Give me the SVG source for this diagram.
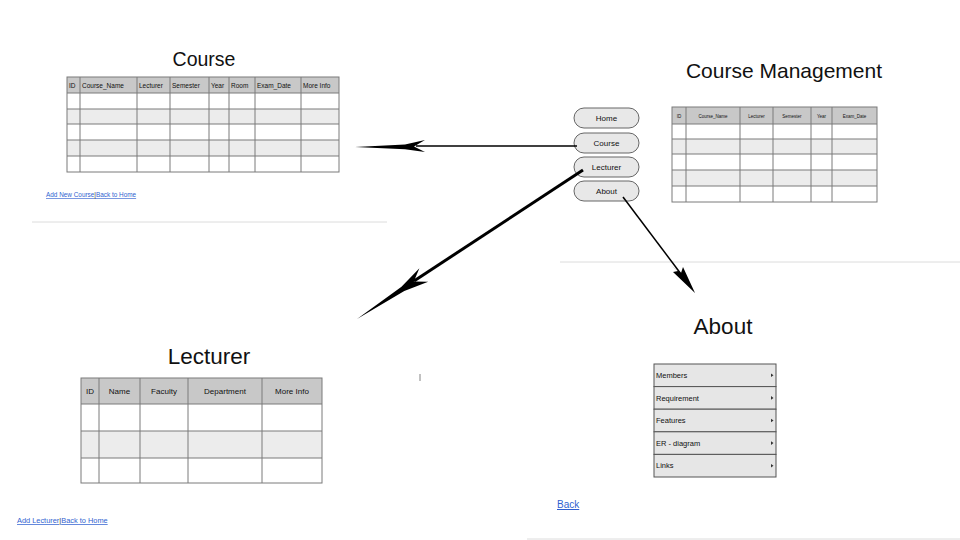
<svg xmlns="http://www.w3.org/2000/svg" width="960" height="540" viewBox="0 0 960 540">
<style>
text{font-family:"Liberation Sans",Arial,sans-serif;fill:#111}
.title{font-size:21px;text-anchor:middle}
.hd{fill:#c8c8c8}
.alt{fill:#ececec}
.wh{fill:#fff}
.grid{stroke:#7a7a7a;stroke-width:1;fill:none}
.link{font-size:7px;fill:#2f5fd0;text-decoration:underline}
.sep{stroke:#dcdcdc;stroke-width:1}
.btn{fill:#e8e8e8;stroke:#666;stroke-width:1}
.bt{font-size:8px;text-anchor:middle}
.mi{fill:#e6e6e6;stroke:#555;stroke-width:1}
.mt{font-size:7.5px}
.conn{stroke:#000;fill:none}
.head{fill:#000;stroke:none}
</style>
<rect width="960" height="540" fill="#fff"/>

<g id="course-page">
<text class="title" x="204" y="66" style="font-size:19.5px">Course</text>
<rect class="hd" x="67" y="77" width="272" height="16"/>
<rect class="wh" x="67" y="93" width="272" height="16"/>
<rect class="alt" x="67" y="109" width="272" height="15"/>
<rect class="wh" x="67" y="124" width="272" height="16"/>
<rect class="alt" x="67" y="140" width="272" height="16"/>
<rect class="wh" x="67" y="156" width="272" height="16"/>
<g class="grid">
<rect x="67" y="77" width="272" height="95"/>
<path d="M67 93H339M67 109H339M67 124H339M67 140H339M67 156H339M80 77V172M137 77V172M170 77V172M209 77V172M229 77V172M255 77V172M301 77V172"/>
</g>
<g>
<text x="69" y="88" font-size="6.5">ID</text>
<text x="82" y="88" font-size="6.5">Course_Name</text>
<text x="139" y="88" font-size="6.5">Lecturer</text>
<text x="172" y="88" font-size="6.5">Semester</text>
<text x="211" y="88" font-size="6.5">Year</text>
<text x="231" y="88" font-size="6.5">Room</text>
<text x="257" y="88" font-size="6.5">Exam_Date</text>
<text x="303" y="88" font-size="6.5">More Info</text>
</g>
<text class="link" x="46" y="197" style="font-size:6.4px">Add New Course<tspan fill="#333" text-decoration="none">|</tspan>Back to Home</text>
<line class="sep" x1="32" y1="222" x2="387" y2="222"/>
</g>

<g id="course-management">
<text class="title" x="784" y="78">Course Management</text>
<rect class="hd" x="672" y="107" width="205" height="17"/>
<rect class="wh" x="672" y="124" width="205" height="15"/>
<rect class="alt" x="672" y="139" width="205" height="15"/>
<rect class="wh" x="672" y="154" width="205" height="16"/>
<rect class="alt" x="672" y="170" width="205" height="16"/>
<rect class="wh" x="672" y="186" width="205" height="16"/>
<g class="grid">
<rect x="672" y="107" width="205" height="95"/>
<path d="M672 124H877M672 139H877M672 154H877M672 170H877M672 186H877M686 107V202M740 107V202M773 107V202M811 107V202M832 107V202"/>
</g>
<g text-anchor="middle">
<text x="679" y="117.5" font-size="4.5">ID</text>
<text x="713" y="117.5" font-size="4.5">Course_Name</text>
<text x="756.5" y="117.5" font-size="4.5">Lecturer</text>
<text x="792" y="117.5" font-size="4.5">Semester</text>
<text x="821.5" y="117.5" font-size="4.5">Year</text>
<text x="854.5" y="117.5" font-size="4.5">Exam_Date</text>
</g>
</g>

<g id="nav-home"><rect class="btn" x="574" y="108" width="65" height="20" rx="10"/><text class="bt" x="606.5" y="121">Home</text></g>
<g id="nav-course"><rect class="btn" x="574" y="133" width="65" height="20" rx="10"/><text class="bt" x="606.5" y="146">Course</text></g>
<g id="nav-lecturer"><rect class="btn" x="574" y="157" width="65" height="20" rx="10"/><text class="bt" x="606.5" y="170">Lecturer</text></g>
<g id="nav-about"><rect class="btn" x="574" y="181" width="65" height="20" rx="10"/><text class="bt" x="606.5" y="194">About</text></g>

<g id="lecturer-page">
<text class="title" x="209" y="364" style="font-size:22.5px">Lecturer</text>
<rect class="hd" x="81" y="378" width="241" height="26"/>
<rect class="wh" x="81" y="404" width="241" height="27"/>
<rect class="alt" x="81" y="431" width="241" height="27"/>
<rect class="wh" x="81" y="458" width="241" height="25"/>
<g class="grid">
<rect x="81" y="378" width="241" height="105"/>
<path d="M81 404H322M81 431H322M81 458H322M99 378V483M140 378V483M188 378V483M262 378V483"/>
</g>
<g text-anchor="middle">
<text x="90" y="394" font-size="8">ID</text>
<text x="119.5" y="394" font-size="8">Name</text>
<text x="164" y="394" font-size="8">Faculty</text>
<text x="225" y="394" font-size="8">Department</text>
<text x="292" y="394" font-size="8">More Info</text>
</g>
<text class="link" x="17" y="523" style="font-size:7.4px">Add Lecturer<tspan fill="#333" text-decoration="none">|</tspan>Back to Home</text>
<line x1="420" y1="374" x2="420" y2="381" stroke="#666" stroke-width="0.8"/>
</g>

<g id="about-page">
<text class="title" x="723" y="334" style="font-size:22.5px">About</text>
<rect class="mi" x="654" y="364" width="122" height="22.6"/>
<rect class="mi" x="654" y="386.6" width="122" height="22.6"/>
<rect class="mi" x="654" y="409.2" width="122" height="22.6"/>
<rect class="mi" x="654" y="431.8" width="122" height="22.6"/>
<rect class="mi" x="654" y="454.4" width="122" height="22.6"/>
<text class="mt" x="656" y="378">Members</text>
<text class="mt" x="656" y="400.6">Requirement</text>
<text class="mt" x="656" y="423.2">Features</text>
<text class="mt" x="656" y="445.8">ER - diagram</text>
<text class="mt" x="656" y="468.4">Links</text>
<g fill="#333">
<path d="M771 373.5l2.5 1.8-2.5 1.8z"/>
<path d="M771 396.1l2.5 1.8-2.5 1.8z"/>
<path d="M771 418.7l2.5 1.8-2.5 1.8z"/>
<path d="M771 441.3l2.5 1.8-2.5 1.8z"/>
<path d="M771 463.9l2.5 1.8-2.5 1.8z"/>
</g>
<text class="link" x="557" y="508" style="font-size:10px">Back</text>
<line class="sep" x1="560" y1="262" x2="960" y2="262"/>
<line class="sep" x1="527" y1="539" x2="960" y2="539"/>
</g>

<g id="connectors">
<path class="conn" stroke-width="1.6" d="M577 146H416"/>
<path class="head" d="M355 147L405 144.6L425 140L414 146.5L425 152L405 149.2Z"/>
<path class="conn" stroke-width="3" d="M583 170L414 281"/>
<path class="head" d="M357 319L401.5 286.7L419.4 268.3L413.8 281.6L428.2 281.7L404.3 290.9Z"/>
<path class="conn" stroke-width="1.5" d="M623 197L681 274"/>
<path class="head" d="M695 293L673 272L678 271L670 265L681 273L683 267Z"/>
</g>
</svg>
